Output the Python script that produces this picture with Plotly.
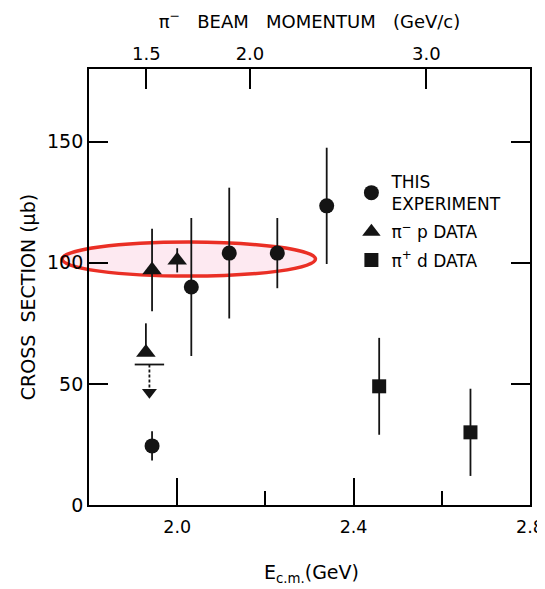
import plotly.graph_objects as go

# ---- data ----
# This experiment (circles)
exp_x = [1.943, 2.032, 2.118, 2.227, 2.339]
exp_y = [24.4, 90, 104, 104, 123.5]
exp_err = [6, 28.5, 27, 14.5, 24]

# pi- p data (triangles)
pim_x = [1.929, 1.943, 2.000]
pim_y = [63, 97, 101]
pim_err_plus = [12, 17, 5]
pim_err_minus = [0, 17, 5]

# upper limit (dashed arrow): bar value and arrow-head value
ul_x = [1.937]
ul_y = [58]
ul_head = [46.5]

# pi+ d data (squares)
pip_x = [2.458, 2.665]
pip_y = [49, 30]
pip_err = [20, 18]

# axes
x_range = [1.8, 2.8]
y_range = [0, 180]
x_major = [2.0, 2.4, 2.8]
x_major_text = ["2.0", "2.4", "2.8"]
x_minor = [2.2, 2.6]
y_ticks = [0, 50, 100, 150]
y_tick_text = ["0", "50", "100", "150"]
p_tick_pos = [1.930, 2.165, 2.565]
p_tick_text = ["1.5", "2.0", "3.0"]

FONT = "DejaVu Sans"
INK = "#141414"
LW = 1.8

fig = go.Figure()

fig.add_trace(go.Scatter(
    x=exp_x, y=exp_y, mode="markers", name="THIS<br>EXPERIMENT", legendgroup="a",
    marker=dict(symbol="circle", size=15, color=INK),
    error_y=dict(type="data", array=exp_err, color=INK, thickness=LW, width=0),
))
fig.add_trace(go.Scatter(
    x=pim_x, y=pim_y, mode="markers", name="\u03c0<sup>\u2212</sup> p DATA", legendgroup="b",
    marker=dict(symbol="triangle-up", size=17, color=INK),
    error_y=dict(type="data", array=pim_err_plus, arrayminus=pim_err_minus,
                 color=INK, thickness=LW, width=0),
))
fig.add_trace(go.Scatter(
    x=pip_x, y=pip_y, mode="markers", name="\u03c0<sup>+</sup> d DATA", legendgroup="c",
    marker=dict(symbol="square", size=14, color=INK),
    error_y=dict(type="data", array=pip_err, color=INK, thickness=LW, width=0),
))

# upper limit: bar, dashed shaft, arrow head
fig.add_trace(go.Scatter(
    x=ul_x * 2, y=[ul_y[0], ul_head[0]], mode="lines", showlegend=False,
    line=dict(color=INK, width=LW, dash="3px,2px"), hoverinfo="skip",
))
fig.add_trace(go.Scatter(
    x=ul_x, y=ul_y, mode="markers", showlegend=False, hoverinfo="skip",
    marker=dict(symbol="line-ew", size=21, line=dict(color=INK, width=LW)),
))
fig.add_trace(go.Scatter(
    x=ul_x, y=ul_head, mode="markers", showlegend=False, hoverinfo="skip",
    marker=dict(symbol="triangle-down", size=13, color=INK),
))

# invisible trace anchoring the top (beam momentum) axis
fig.add_trace(go.Scatter(
    x=p_tick_pos, y=[None] * len(p_tick_pos), xaxis="x2", mode="markers",
    showlegend=False, hoverinfo="skip",
))

# highlight ellipse
fig.add_shape(type="circle", xref="paper", yref="paper",
              x0=-0.061, x1=0.5136, y0=0.525, y1=0.603,
              fillcolor="#fde9f1", line=dict(color="#ea2f25", width=3.5),
              layer="below")

# axis titles as annotations
fig.add_annotation(
    text="CROSS  SECTION (\u03bcb)", textangle=-90,
    xref="paper", yref="paper", x=-0.138, y=0.477,
    xanchor="center", yanchor="middle", showarrow=False,
    font=dict(family=FONT, size=19, color="black"),
)
fig.add_annotation(
    text="E<sub>c.m.</sub>(GeV)",
    xref="paper", yref="paper", x=0.505, y=-0.158,
    xanchor="center", yanchor="middle", showarrow=False,
    font=dict(family=FONT, size=19, color="black"),
)

axis_common = dict(
    showgrid=False, zeroline=False, showline=True, linecolor="black", linewidth=LW,
    ticks="inside", tickcolor="black", tickwidth=LW, automargin=False,
)

fig.update_layout(
    width=537, height=581,
    margin=dict(l=81, r=15, t=61, b=84),
    paper_bgcolor="white", plot_bgcolor="white",
    font=dict(family=FONT, color="black"),
    xaxis=dict(
        range=x_range, tickvals=x_major, ticktext=x_major_text, ticklen=27,
        mirror=True, ticklabelstandoff=5,
        tickfont=dict(family=FONT, size=17.5, color="black"),
        minor=dict(tickvals=x_minor, ticks="inside", ticklen=14,
                   tickwidth=LW, tickcolor="black"),
        **axis_common,
    ),
    xaxis2=dict(
        range=x_range, overlaying="x", side="top", anchor="y",
        tickvals=p_tick_pos, ticktext=p_tick_text, ticklen=20,
        showgrid=False, zeroline=False, showline=False, automargin=False,
        ticks="inside", tickcolor="black", tickwidth=LW, ticklabelstandoff=4,
        tickfont=dict(family=FONT, size=18, color="black"),
        title=dict(text="\u03c0<sup>\u2212</sup>   BEAM   MOMENTUM   (GeV/c)",
                   font=dict(family=FONT, size=18), standoff=10),
    ),
    yaxis=dict(
        range=y_range, tickvals=y_ticks, ticktext=y_tick_text, ticklen=19,
        mirror="ticks",
        tickfont=dict(family=FONT, size=19, color="black"),
        **axis_common,
    ),
    legend=dict(
        x=0.595, y=0.782, xanchor="left", yanchor="top",
        font=dict(family=FONT, size=17, color="black"),
        bgcolor="rgba(0,0,0,0)", itemsizing="trace", tracegroupgap=3,
    ),
)

fig.write_html("out.html")
